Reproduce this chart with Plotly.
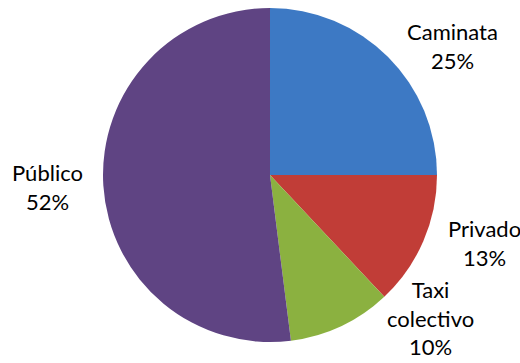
import plotly.graph_objects as go

categories = ["Caminata", "Privado", "Taxi<br>colectivo", "Público"]
values = [25, 13, 10, 52]
colors = ["#3d79c4", "#c13d37", "#8bb140", "#5f4483"]

# label anchor positions (pixels) for the outside labels
label_pos = [(452, 46), (484, 243), (430, 318), (47, 187)]

W, H = 520, 363
fig = go.Figure(go.Pie(
    labels=categories, values=values, sort=False, direction="clockwise",
    rotation=0, marker=dict(colors=colors, line=dict(width=0)),
    textinfo="none", hoverinfo="label+percent",
    domain=dict(x=[103 / W, 437 / W], y=[(H - 342) / H, (H - 8) / H]),
))

total = sum(values)
for cat, v, (px, py) in zip(categories, values, label_pos):
    fig.add_annotation(
        x=px / W, y=1 - py / H, xref="paper", yref="paper",
        text=f"{cat}<br>{round(100 * v / total)}%", showarrow=False,
        font=dict(family="Lato, Open Sans, sans-serif", size=22, color="#000000"),
        align="center", xanchor="center", yanchor="middle",
    )

fig.update_layout(
    width=W, height=H, margin=dict(l=0, r=0, t=0, b=0),
    showlegend=False, paper_bgcolor="white", plot_bgcolor="white",
)
fig.write_html("out.html")
